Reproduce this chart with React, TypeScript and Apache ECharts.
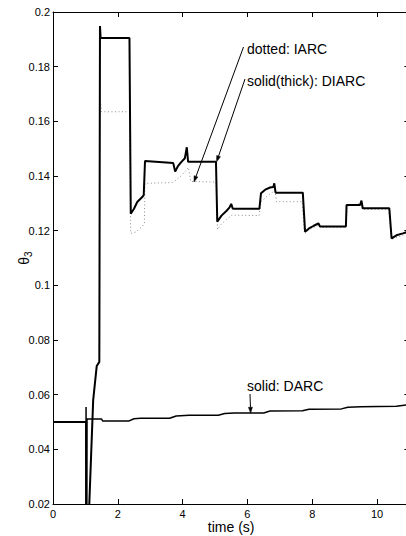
import React, { useEffect, useRef } from "react";
import * as echarts from "echarts";

// time (s), theta3
const darc: [number, number][] = [
  [0, 0.05], [1.02, 0.05], [1.02, 0.0555], [1.03, -0.05], [1.05, 0.0511], [1.5, 0.0511],
  [1.53, 0.0504], [2.35, 0.0504], [2.5, 0.0512], [2.7, 0.0514], [3.6, 0.0514], [3.8, 0.0522],
  [4.2, 0.0525], [5.1, 0.0525], [5.3, 0.0531], [5.6, 0.0533], [6.5, 0.0533], [6.7, 0.054],
  [7.7, 0.0541], [7.9, 0.0547], [8.9, 0.0548], [9.1, 0.0554], [9.5, 0.0556], [10.6, 0.0558],
  [10.95, 0.0563],
];

const diarc: [number, number][] = [
  [0, 0.05], [1.02, 0.05], [1.03, -0.05], [1.12, 0.02], [1.24, 0.058], [1.35, 0.0705],
  [1.43, 0.072], [1.45, 0.1949], [1.47, 0.1905], [2.36, 0.1905], [2.4, 0.1262], [2.5, 0.128],
  [2.6, 0.1305], [2.77, 0.1325], [2.8, 0.133], [2.84, 0.1455], [3.71, 0.1448], [3.77, 0.1416],
  [3.85, 0.1435], [3.95, 0.145], [4.07, 0.1465], [4.13, 0.1505], [4.17, 0.1452], [5.03, 0.1452],
  [5.07, 0.1233], [5.2, 0.1255], [5.35, 0.1272], [5.45, 0.1285], [5.5, 0.1298], [5.55, 0.128],
  [6.37, 0.128], [6.42, 0.1337], [6.55, 0.135], [6.7, 0.1358], [6.8, 0.136], [6.83, 0.1373],
  [6.87, 0.1339], [7.71, 0.1339], [7.78, 0.1196], [7.9, 0.1208], [8.05, 0.1218], [8.19, 0.1227],
  [8.24, 0.1215], [9.04, 0.1215], [9.06, 0.1294], [9.48, 0.1294], [9.52, 0.131], [9.56, 0.1282],
  [10.38, 0.1282], [10.45, 0.1172], [10.6, 0.1183], [10.8, 0.119], [10.95, 0.1196],
];

const iarc: [number, number][] = [
  [0, 0.05], [1.02, 0.05], [1.03, -0.05], [1.12, 0.02], [1.24, 0.058], [1.35, 0.0705],
  [1.43, 0.072], [1.45, 0.169], [1.5, 0.1635], [2.36, 0.1635], [2.4, 0.119], [2.55, 0.1195],
  [2.75, 0.1215], [2.82, 0.1225], [2.84, 0.1373], [3.68, 0.1376], [3.8, 0.1385], [3.95, 0.14],
  [4.1, 0.142], [4.18, 0.1432], [4.25, 0.138], [5.03, 0.1378], [5.08, 0.1205], [5.2, 0.1225],
  [5.35, 0.124], [5.52, 0.1257], [6.36, 0.1255], [6.42, 0.1306], [6.55, 0.132], [6.7, 0.1335],
  [6.85, 0.1346], [6.9, 0.1306], [7.69, 0.1306], [7.76, 0.1188], [7.9, 0.1203], [8.1, 0.1215],
  [8.2, 0.122], [8.25, 0.1212], [9.04, 0.1212], [9.08, 0.129], [9.5, 0.13], [9.55, 0.1278],
  [10.36, 0.1278], [10.45, 0.1168], [10.95, 0.119],
];

// annotation labels and the data points they point at
const annLabels = ["dotted: IARC", "solid(thick): DIARC", "solid: DARC"];
const annTargets: [number, number][] = [[4.35, 0.1378], [5.05, 0.1452], [6.1, 0.0532]];

const FONT = "Liberation Sans, Arial, Helvetica, sans-serif";

export default function App() {
  const ref = useRef<HTMLDivElement>(null);
  useEffect(() => {
    if (!ref.current) return;
    const chart = echarts.init(ref.current, undefined, { renderer: "svg" });
    const axisLine = { show: true, onZero: false, lineStyle: { color: "#000", width: 1 } };
    const tick = { show: true, inside: true, length: 5, lineStyle: { color: "#000" } };
    chart.setOption({
      animation: false,
      backgroundColor: "#fff",
      grid: { left: 53, top: 12, width: 356.4, height: 492, containLabel: false, outerBoundsMode: "none" },
      xAxis: [
        {
          type: "value", position: "bottom", min: 0, max: 11, interval: 2,
          axisLine, axisTick: tick, splitLine: { show: false },
          axisLabel: {
            color: "#000", fontSize: 11, fontFamily: FONT, margin: 4,
            formatter: (v: number) => (v === 11 ? "" : String(v)),
          },
          name: "time (s)", nameLocation: "middle", nameGap: 16, nameMoveOverlap: false,
          nameTextStyle: { color: "#000", fontSize: 14, fontFamily: FONT },
        },
        {
          type: "value", position: "top", min: 0, max: 11, interval: 2,
          axisLine, axisTick: tick, splitLine: { show: false }, axisLabel: { show: false },
        },
      ],
      yAxis: [
        {
          type: "value", position: "left", min: 0.02, max: 0.2, interval: 0.02,
          axisLine, axisTick: tick, splitLine: { show: false },
          axisLabel: { color: "#000", fontSize: 11, fontFamily: FONT, margin: 3 },
          name: "{t|θ}{s|3}", nameLocation: "middle", nameRotate: 90, nameGap: 20, nameMoveOverlap: false,
          nameTextStyle: {
            color: "#000",
            rich: {
              t: { fontSize: 14, fontFamily: FONT, color: "#000", verticalAlign: "middle", lineHeight: 18 },
              s: { fontSize: 10, fontFamily: FONT, color: "#000", verticalAlign: "bottom", lineHeight: 18 },
            },
          },
        },
        {
          type: "value", position: "right", min: 0.02, max: 0.2, interval: 0.02,
          axisLine, axisTick: tick, splitLine: { show: false }, axisLabel: { show: false },
        },
      ],
      series: [
        {
          name: "IARC", type: "line", data: iarc, showSymbol: false, symbol: "none",
          lineStyle: { color: "#8a8a8a", width: 1, type: [1, 2.5] },
        },
        {
          name: "DARC", type: "line", data: darc, showSymbol: false, symbol: "none",
          lineStyle: { color: "#000", width: 1.5 },
        },
        {
          name: "DIARC", type: "line", data: diarc, showSymbol: false, symbol: "none",
          lineStyle: { color: "#000", width: 2 },
        },
      ],
    });

    const starts: [number, number][] = [[243.5, 47], [245, 79], [250, 394]];
    const textPos: [number, number][] = [[247, 49], [247, 81], [247, 386]];
    const graphics: any[] = [];
    annTargets.forEach((tg, i) => {
      const p = chart.convertToPixel({ gridIndex: 0 }, tg) as number[];
      const s = starts[i];
      const dx = p[0] - s[0];
      const dy = p[1] - s[1];
      const len = Math.sqrt(dx * dx + dy * dy);
      const ux = dx / len, uy = dy / len;
      const hl = 6, hw = 2;
      const bx = p[0] - ux * hl, by = p[1] - uy * hl;
      graphics.push({
        type: "line",
        shape: { x1: s[0], y1: s[1], x2: bx, y2: by },
        style: { stroke: "#000", lineWidth: 1 },
      });
      graphics.push({
        type: "polygon",
        shape: {
          points: [
            [p[0], p[1]],
            [bx - uy * hw, by + ux * hw],
            [bx + uy * hw, by - ux * hw],
          ],
        },
        style: { fill: "#000", stroke: "#000", lineWidth: 0.5 },
      });
      graphics.push({
        type: "text",
        x: textPos[i][0], y: textPos[i][1],
        style: {
          text: annLabels[i], fill: "#000", font: `14px ${FONT}`,
          textAlign: "left", textVerticalAlign: "middle",
        },
      });
    });
    chart.setOption({ graphic: graphics });
    return () => chart.dispose();
  }, []);
  return (
    <div style={{ position: "absolute", left: 0, top: 0, width: 406, height: 536, overflow: "hidden", background: "#fff" }}>
      <div ref={ref} style={{ width: 420, height: 536 }} />
    </div>
  );
}
